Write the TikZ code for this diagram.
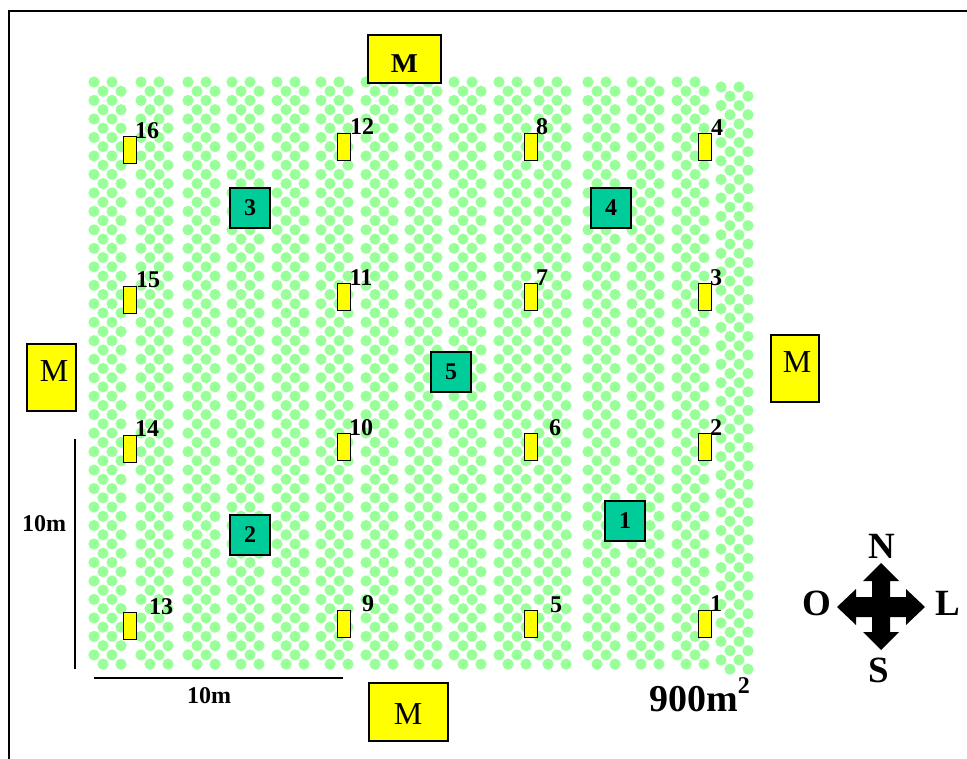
\documentclass[tikz,border=0pt]{standalone}
\usepackage{fontspec}
\setmainfont{Liberation Serif}
\definecolor{dotgreen}{HTML}{99FF99}
\definecolor{plotteal}{HTML}{00CC99}
\definecolor{boxyellow}{HTML}{FFFF00}
\tikzset{
  mbox/.style={draw=black,fill=boxyellow,line width=1.6pt,inner sep=0pt,anchor=center},
  plot/.style={draw=black,fill=plotteal,line width=1.6pt,minimum width=40pt,minimum height=40pt,inner sep=0pt,font=\fontsize{24}{24}\selectfont\bfseries},
  trap/.style={draw=black,fill=boxyellow,line width=1.4pt,minimum width=13.5pt,minimum height=27.5pt,inner sep=0pt},
  num/.style={inner sep=0pt,font=\fontsize{24}{24}\selectfont\bfseries},
  mlab/.style={inner sep=0pt,font=\fontsize{32}{32}\selectfont},
  card/.style={inner sep=0pt,font=\fontsize{37}{37}\selectfont\bfseries},
  rule/.style={line width=1.3pt}
}
\begin{document}
\begin{tikzpicture}[x=1pt,y=-1pt]
\useasboundingbox (0,0) rectangle (967,759);
\coordinate (f0) at (9,759);
\coordinate (f1) at (9,11);
\coordinate (f2) at (967,11);
\draw[line width=1.8pt] (f0) -- (f1) -- (f2);
% strips of dots
\foreach \sx/\sy in {94/82,141/82,188/82,232/82,277/82,321/82,366/82,410/82,454/82,499/82,539/82,588/82,632/82,677/82,721/87}{
  \foreach \r in {0,...,31}{
    \fill[dotgreen] (\sx,\sy+18.48*\r) circle (5.6);
    \fill[dotgreen] (\sx+18,\sy+18.48*\r) circle (5.6);
    \fill[dotgreen] (\sx+9,\sy+9.24+18.48*\r) circle (5.6);
    \fill[dotgreen] (\sx+27,\sy+9.24+18.48*\r) circle (5.6);
  }
}
% M boxes
\node[mbox,minimum width=73pt,minimum height=48pt] (mt) at (404.5,59) {};
\node[mlab] (mtl) at (404.5,64) {\scalebox{0.9}[0.85]{\bfseries M}};
\node[mbox,minimum width=79pt,minimum height=58pt] (mb) at (408.5,712) {};
\node[mlab] (mbl) at (408,714) {M};
\node[mbox,minimum width=49pt,minimum height=67pt] (ml) at (51.5,377.5) {};
\node[mlab] (mll) at (54,371) {M};
\node[mbox,minimum width=48pt,minimum height=67pt] (mr) at (795,368.5) {};
\node[mlab] (mrl) at (797,362) {M};
% plots
\node[plot] (p1) at (625,521) {1};
\node[plot] (p2) at (250,535) {2};
\node[plot] (p3) at (250,208) {3};
\node[plot] (p4) at (611,208) {4};
\node[plot] (p5) at (451,372) {5};
% traps
\foreach \n/\x/\y in {1/705/624,2/705/447,3/705/297,4/705/147,5/531/624,6/531/447,7/531/297,8/531/147,9/344/624,10/344/447,11/344/297,12/344/147,13/130/626,14/130/449,15/130/300,16/130/150}{
  \node[trap] (t\n) at (\x,\y) {};
}
\foreach \n/\x/\y in {1/716/604,2/716/428,3/716/278,4/717/128,5/556/605,6/555/428,7/542/278,8/542/127,9/368/604,10/361/428,11/361/278,12/362/127,13/161/607,14/147/429,15/148/280,16/147/131}{
  \node[num] (n\n) at (\x,\y) {\n};
}
% scale lines
\coordinate (h0) at (94,678);
\coordinate (h1) at (343,678);
\coordinate (v0) at (75,439);
\coordinate (v1) at (75,669);
\draw[rule] (h0) -- (h1);
\draw[rule] (v0) -- (v1);
\node[num] (hl) at (209,696) {10m};
\node[num] (vl) at (44,524) {10m};
\node[inner sep=0pt,anchor=base west,font=\fontsize{38}{38}\selectfont\bfseries] (area) at (649,711) {900m\raisebox{18pt}{\fontsize{24}{24}\selectfont 2}};
% compass
\fill[black] (881,563) -- (899,581) -- (890,581) -- (890,597) -- (906,597) -- (906,589) -- (925,607) -- (906,625) -- (906,617) -- (890,617) -- (890,632) -- (899,632) -- (881,650) -- (863,632) -- (872,632) -- (872,617) -- (856,617) -- (856,625) -- (837,607) -- (856,589) -- (856,597) -- (872,597) -- (872,581) -- (863,581) -- cycle;
\node[card] (cn) at (882,546) {N};
\node[card] (cs) at (879,670) {S};
\node[card] (co) at (817,603) {O};
\node[card] (cl) at (948,603) {L};
\end{tikzpicture}
\end{document}
